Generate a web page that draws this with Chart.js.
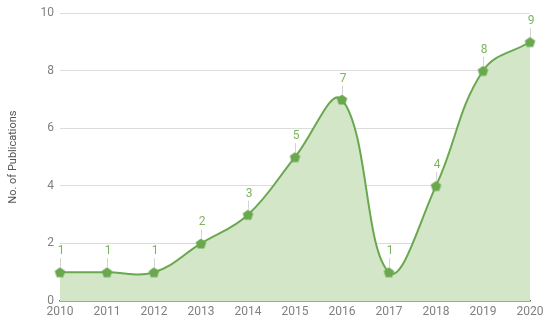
<!DOCTYPE html>
<html>
<head>
<meta charset="utf-8">
<script src="https://cdn.jsdelivr.net/npm/chart.js@4/dist/chart.umd.min.js"></script>
<style>
  html, body { margin: 0; padding: 0; background: #fff; }
  #wrap { width: 550px; height: 324px; position: relative; }
</style>
</head>
<body>
<div id="wrap"><canvas id="chart"></canvas></div>
<script>
const years = [2010, 2011, 2012, 2013, 2014, 2015, 2016, 2017, 2018, 2019, 2020];
const publications = [1, 1, 1, 2, 3, 5, 7, 1, 4, 8, 9];
const yTicks = [0, 2, 4, 6, 8, 10];

const lineColor = '#6aa84f';
const labelColor = '#7cb561';

// pentagon marker, Chart.js has no built-in one
function pentagon(r) {
    const c = document.createElement('canvas');
    const s = Math.ceil(r * 2 + 2);
    c.width = s; c.height = s;
    const g = c.getContext('2d');
    g.beginPath();
    for (let i = 0; i < 5; i++) {
        const a = -Math.PI / 2 + i * 2 * Math.PI / 5;
        const px = s / 2 + r * Math.cos(a), py = s / 2 + r * Math.sin(a) + 0.5;
        i ? g.lineTo(px, py) : g.moveTo(px, py);
    }
    g.closePath();
    g.fillStyle = lineColor;
    g.fill();
    return c;
}

const valueLabels = {
    id: 'valueLabels',
    afterDatasetsDraw(chart) {
        const ctx = chart.ctx;
        const meta = chart.getDatasetMeta(0);
        ctx.save();
        meta.data.forEach((pt, i) => {
            ctx.strokeStyle = 'rgba(200,200,200,0.8)';
            ctx.lineWidth = 1;
            ctx.beginPath();
            ctx.moveTo(Math.round(pt.x) + 0.5, pt.y - 5);
            ctx.lineTo(Math.round(pt.x) + 0.5, pt.y - 14);
            ctx.stroke();
            ctx.fillStyle = labelColor;
            ctx.font = '12px Roboto';
            ctx.textAlign = 'center';
            ctx.textBaseline = 'middle';
            ctx.fillText(publications[i], pt.x + 1, pt.y - 21);
        });
        ctx.restore();
    }
};

new Chart(document.getElementById('chart'), {
    type: 'line',
    data: {
        datasets: [{
            data: years.map((y, i) => ({ x: y, y: publications[i] })),
            borderColor: lineColor,
            borderWidth: 2,
            backgroundColor: 'rgba(212,230,200,1)',
            fill: 'origin',
            tension: 0.4,
            pointStyle: pentagon(5.5),
            pointRadius: 6,
            clip: false
        }]
    },
    options: {
        responsive: true,
        maintainAspectRatio: false,
        animation: false,
        layout: { padding: { top: 13, right: 20, left: 0, bottom: 0 } },
        plugins: { legend: { display: false }, tooltip: { enabled: false } },
        scales: {
            x: {
                type: 'linear',
                min: 2010, max: 2020,
                afterBuildTicks: s => { s.ticks = years.map(v => ({ value: v })); },
                ticks: {
                    color: '#808080', font: { family: 'Roboto', size: 12 }, padding: 4,
                    callback: v => String(v), maxRotation: 0
                },
                grid: { display: false, drawTicks: false },
                border: { display: true, color: '#6f6f6f', width: 1.5 },
                afterFit: s => { s.height = 23; }
            },
            y: {
                min: 0, max: 10,
                afterBuildTicks: s => { s.ticks = yTicks.map(v => ({ value: v })); },
                ticks: { color: '#808080', font: { family: 'Roboto', size: 12 }, padding: 6 },
                grid: { color: '#dcdcdc', drawTicks: false },
                border: { display: false },
                title: { display: true, text: 'No. of Publications', color: '#555', font: { family: 'Roboto', size: 11 }, padding: { top: 7, bottom: 0 } },
                afterFit: s => { s.width = 60; }
            }
        }
    },
    plugins: [valueLabels]
});
</script>
</body>
</html>
